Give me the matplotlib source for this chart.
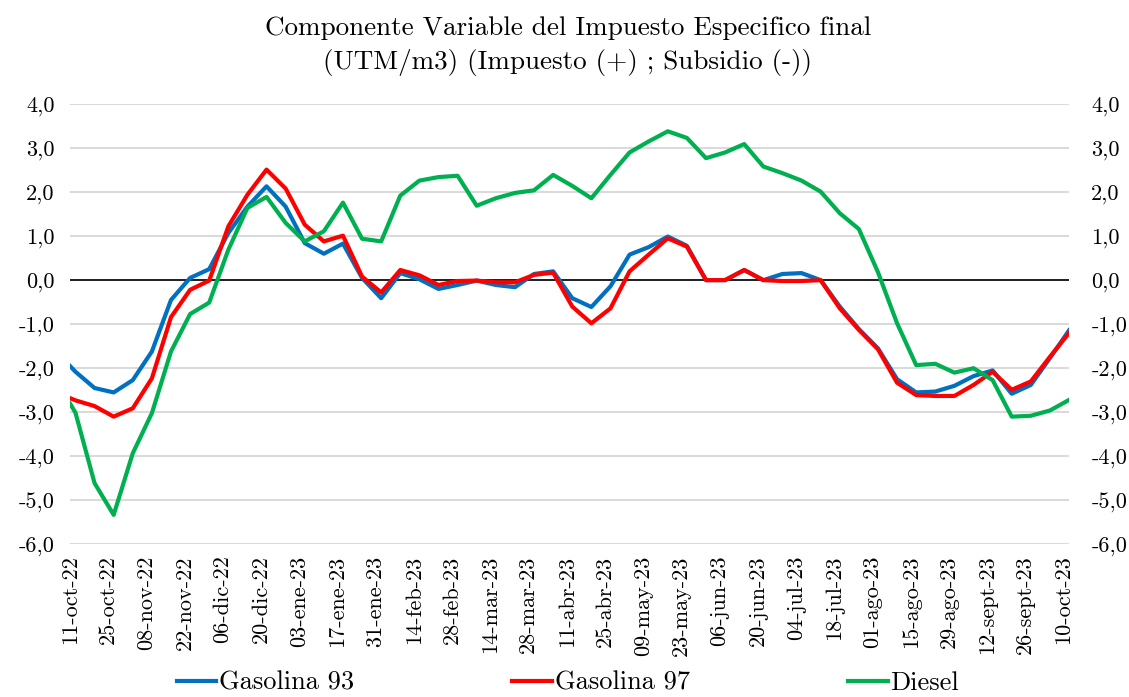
import matplotlib

matplotlib.use("Agg")
import matplotlib.pyplot as plt  # noqa: E402
import pandas as pd  # noqa: E402

# first observation on 11-oct-22, then weekly (Thursdays) up to 12-oct-23
first_date = pd.Timestamp("2022-10-11")
weekly_dates = pd.date_range("2022-10-13", periods=53, freq="7D")
dates = [first_date] + list(weekly_dates)

gasolina_93 = [-1.95, -2.08, -2.45, -2.55, -2.27, -1.62, -0.45, 0.05, 0.25, 1.07,
               1.67, 2.13, 1.67, 0.84, 0.60, 0.83, 0.05, -0.41, 0.16, 0.02,
               -0.20, -0.11, -0.01, -0.11, -0.16, 0.14, 0.20, -0.41, -0.61, -0.14,
               0.58, 0.75, 0.99, 0.78, 0.00, 0.00, 0.23, 0.00, 0.14, 0.16,
               0.00, -0.60, -1.11, -1.55, -2.25, -2.55, -2.53, -2.40, -2.18, -2.05,
               -2.58, -2.38, -1.77, -1.14]
gasolina_97 = [-2.68, -2.73, -2.86, -3.10, -2.91, -2.23, -0.84, -0.22, -0.01, 1.22,
               1.94, 2.51, 2.08, 1.26, 0.88, 1.01, 0.08, -0.28, 0.23, 0.11,
               -0.11, -0.02, -0.01, -0.05, -0.05, 0.12, 0.17, -0.60, -0.98, -0.64,
               0.20, 0.58, 0.95, 0.76, 0.00, 0.00, 0.23, 0.00, -0.02, -0.02,
               0.00, -0.64, -1.13, -1.57, -2.33, -2.61, -2.63, -2.63, -2.38, -2.08,
               -2.49, -2.30, -1.74, -1.20]
diesel = [-2.80, -3.01, -4.61, -5.33, -3.93, -3.02, -1.62, -0.77, -0.51, 0.69,
          1.64, 1.89, 1.30, 0.88, 1.11, 1.76, 0.94, 0.88, 1.92, 2.26,
          2.34, 2.37, 1.69, 1.86, 1.98, 2.04, 2.39, 2.14, 1.86, 2.39,
          2.90, 3.15, 3.38, 3.23, 2.77, 2.90, 3.09, 2.58, 2.43, 2.26,
          2.01, 1.52, 1.16, 0.18, -0.98, -1.93, -1.90, -2.10, -2.00, -2.27,
          -3.10, -3.08, -2.96, -2.72]

tick_dates = pd.date_range("2022-10-11", periods=27, freq="14D")
tick_labels = ["11-oct-22", "25-oct-22", "08-nov-22", "22-nov-22", "06-dic-22",
               "20-dic-22", "03-ene-23", "17-ene-23", "31-ene-23", "14-feb-23",
               "28-feb-23", "14-mar-23", "28-mar-23", "11-abr-23", "25-abr-23",
               "09-may-23", "23-may-23", "06-jun-23", "20-jun-23", "04-jul-23",
               "18-jul-23", "01-ago-23", "15-ago-23", "29-ago-23", "12-sept-23",
               "26-sept-23", "10-oct-23"]
y_ticks = [-6, -5, -4, -3, -2, -1, 0, 1, 2, 3, 4]
y_labels = ["-6,0", "-5,0", "-4,0", "-3,0", "-2,0", "-1,0", "0,0", "1,0", "2,0", "3,0", "4,0"]

series = [("Gasolina 93", gasolina_93, "#0070C0"),
          ("Gasolina 97", gasolina_97, "#FF0000"),
          ("Diesel", diesel, "#00B050")]

FONT = "cmr10"

fig = plt.figure(figsize=(11.29, 6.97), dpi=100)
ax = fig.add_axes([0.062, 0.219, 0.8849, 0.6318])

for name, vals, color in series:
    ax.plot(dates, vals, color=color, lw=3.0, label=name, solid_joinstyle="round", zorder=3)

ax.axhline(0, color="black", lw=1.2, zorder=2)
ax.set_ylim(-6, 4)
ax.set_xlim(dates[0], dates[-1])
ax.set_yticks(y_ticks)
ax.set_yticklabels(y_labels, fontfamily=FONT, fontsize=16)
ax.set_xticks(tick_dates)
ax.set_xticklabels(tick_labels, rotation=90, fontfamily=FONT, fontsize=16)
ax.tick_params(axis="both", length=0)
ax.tick_params(axis="y", pad=11)
ax.tick_params(axis="x", pad=8)
ax.yaxis.grid(True, color="#D9D9D9", lw=1.4, zorder=0)
for sp in ax.spines.values():
    sp.set_visible(False)

ax2 = ax.twinx()
ax2.set_ylim(-6, 4)
ax2.set_yticks(y_ticks)
ax2.set_yticklabels(y_labels, fontfamily=FONT, fontsize=16)
ax2.tick_params(axis="y", length=0, pad=16)
for sp in ax2.spines.values():
    sp.set_visible(False)

fig.text(0.503, 0.960, "Componente Variable del Impuesto Especifico final",
         ha="center", va="center", fontfamily=FONT, fontsize=19.5)
fig.text(0.503, 0.910, "(UTM/m3) (Impuesto (+) ; Subsidio (-))",
         ha="center", va="center", fontfamily=FONT, fontsize=19.5)

handles, labels = ax.get_legend_handles_labels()
fig.legend(handles, labels, loc="center", bbox_to_anchor=(0.503, 0.02), ncol=3,
           frameon=False, prop={"family": FONT, "size": 19},
           handlelength=1.5, handletextpad=0.1, columnspacing=6.0, borderpad=0)

fig.savefig("out.png", dpi=100)
